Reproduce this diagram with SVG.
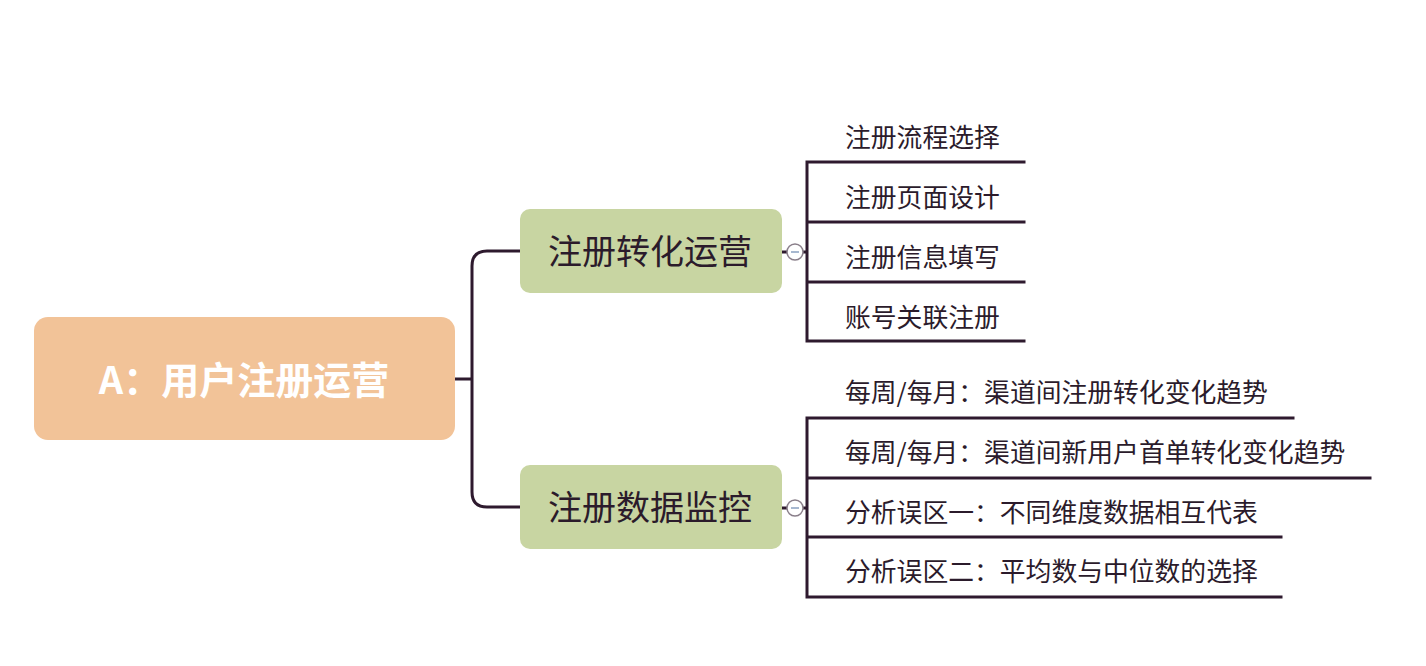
<svg xmlns="http://www.w3.org/2000/svg" width="1426" height="666" viewBox="0 0 1426 666">
<style>
.ln{fill:none;stroke:#2e1a2e;stroke-width:3;stroke-linecap:square}
.leaf{font-family:"Noto Sans CJK SC","Liberation Sans",sans-serif;font-size:25.8px;fill:#2b1b2b}
.sub{font-family:"Noto Sans CJK SC","Liberation Sans",sans-serif;font-size:34px;fill:#2b1b2b;text-anchor:middle}
.root{font-family:"Noto Sans CJK SC","Liberation Sans",sans-serif;font-size:38px;font-weight:bold;fill:#ffffff;text-anchor:middle}
.tog{fill:#ffffff;stroke:#8a7f8a;stroke-width:1.5}
.minus{stroke:#8aa0c0;stroke-width:1.5}
</style>
<rect width="1426" height="666" fill="#ffffff"/>
<g id="connectors">
<path class="ln" d="M455 379 H472 M520 251 H487 Q472 251 472 266 V492 Q472 507 487 507 H520"/>
<path class="ln" d="M782 252 H787 M803 252 H807 M807 162 V341 M807 162 H1024 M807 222 H1024 M807 282 H1024 M807 341 H1024"/>
<path class="ln" d="M782 508 H787 M803 508 H807 M807 418 V597 M807 418 H1293 M807 478 H1370 M807 537 H1281 M807 597 H1281"/>
</g>
<g id="root">
<rect x="34" y="317" width="421" height="123" rx="14" fill="#f2c398"/>
<text class="root" x="244" y="394">A：用户注册运营</text>
</g>
<g id="n1">
<rect x="520" y="209" width="262" height="84" rx="10" fill="#c8d5a2"/>
<text class="sub" x="650" y="264">注册转化运营</text>
<circle class="tog" cx="795" cy="252" r="8"/>
<line class="minus" x1="791" y1="252" x2="799" y2="252"/>
</g>
<g id="n2">
<rect x="520" y="465" width="262" height="84" rx="10" fill="#c8d5a2"/>
<text class="sub" x="650" y="520">注册数据监控</text>
<circle class="tog" cx="795" cy="508" r="8"/>
<line class="minus" x1="791" y1="508" x2="799" y2="508"/>
</g>
<g id="l1"><text class="leaf" x="845" y="147">注册流程选择</text></g>
<g id="l2"><text class="leaf" x="845" y="207">注册页面设计</text></g>
<g id="l3"><text class="leaf" x="845" y="267">注册信息填写</text></g>
<g id="l4"><text class="leaf" x="845" y="327">账号关联注册</text></g>
<g id="l5"><text class="leaf" x="845" y="402">每周/每月：渠道间注册转化变化趋势</text></g>
<g id="l6"><text class="leaf" x="845" y="462">每周/每月：渠道间新用户首单转化变化趋势</text></g>
<g id="l7"><text class="leaf" x="845" y="522">分析误区一：不同维度数据相互代表</text></g>
<g id="l8"><text class="leaf" x="845" y="581">分析误区二：平均数与中位数的选择</text></g>
</svg>
